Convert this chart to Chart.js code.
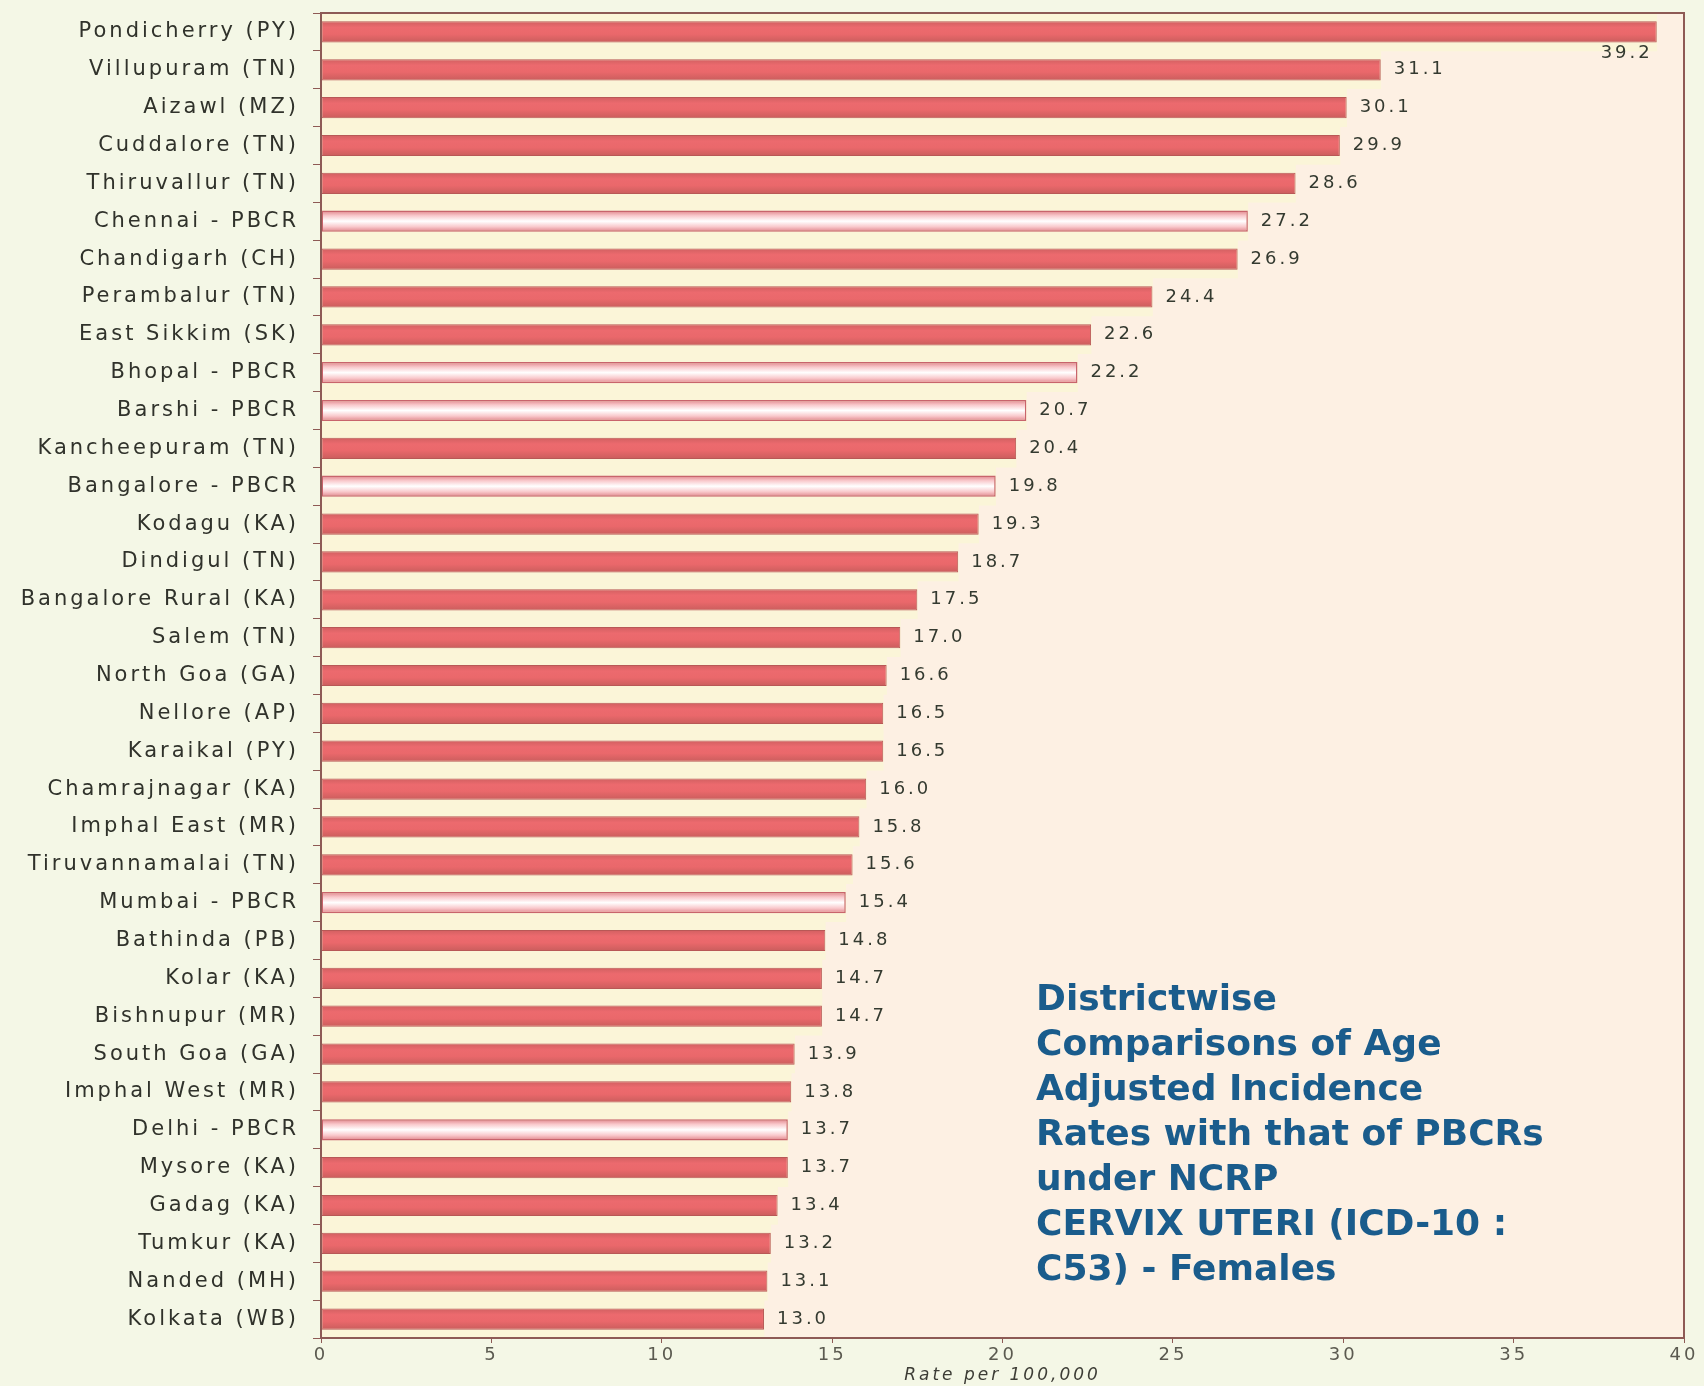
<!DOCTYPE html>
<html>
<head>
<meta charset="utf-8">
<title>Districtwise AAR - Cervix Uteri</title>
<script src="https://cdn.jsdelivr.net/npm/chart.js@4.4.1/dist/chart.umd.min.js"></script>
<style>
  html, body { margin: 0; padding: 0; background: #f4f7e6; }
  #wrap { width: 1704px; height: 1386px; }
</style>
</head>
<body>
<div id="wrap"><canvas id="aarChart" width="1704" height="1386"></canvas></div>
<script>
const districts = [
    'Pondicherry (PY)', 'Villupuram (TN)', 'Aizawl (MZ)', 'Cuddalore (TN)', 'Thiruvallur (TN)',
    'Chennai - PBCR', 'Chandigarh (CH)', 'Perambalur (TN)', 'East Sikkim (SK)', 'Bhopal - PBCR',
    'Barshi - PBCR', 'Kancheepuram (TN)', 'Bangalore - PBCR', 'Kodagu (KA)', 'Dindigul (TN)',
    'Bangalore Rural (KA)', 'Salem (TN)', 'North Goa (GA)', 'Nellore (AP)', 'Karaikal (PY)',
    'Chamrajnagar (KA)', 'Imphal East (MR)', 'Tiruvannamalai (TN)', 'Mumbai - PBCR', 'Bathinda (PB)',
    'Kolar (KA)', 'Bishnupur (MR)', 'South Goa (GA)', 'Imphal West (MR)', 'Delhi - PBCR',
    'Mysore (KA)', 'Gadag (KA)', 'Tumkur (KA)', 'Nanded (MH)', 'Kolkata (WB)'
];
const rates = [
    39.2, 31.1, 30.1, 29.9, 28.6,
    27.2, 26.9, 24.4, 22.6, 22.2,
    20.7, 20.4, 19.8, 19.3, 18.7,
    17.5, 17.0, 16.6, 16.5, 16.5,
    16.0, 15.8, 15.6, 15.4, 14.8,
    14.7, 14.7, 13.9, 13.8, 13.7,
    13.7, 13.4, 13.2, 13.1, 13.0
];
const xTicks = [0, 5, 10, 15, 20, 25, 30, 35, 40];
const titleLines = [
    'Districtwise',
    'Comparisons of Age',
    'Adjusted Incidence',
    'Rates with that of PBCRs',
    'under NCRP',
    'CERVIX UTERI (ICD-10 :',
    'C53) - Females'
];

const isPbcr = label => label.indexOf('PBCR') !== -1;

// vertical gradient across one bar, built from the bar's own pixel position
function barFill(context) {
    const pbcr = context.dataIndex !== undefined && isPbcr(districts[context.dataIndex]);
    const plain = pbcr ? '#fbd3d5' : '#e8686b';
    const chart = context.chart;
    const y = chart.scales && chart.scales.y;
    if (!y || context.dataIndex === undefined) return plain;
    const centre = y.getPixelForValue(context.dataIndex);
    if (!isFinite(centre)) return plain;
    const half = 11;
    const g = chart.ctx.createLinearGradient(0, centre - half, 0, centre + half);
    if (pbcr) {
        g.addColorStop(0, '#dd7e84');
        g.addColorStop(0.25, '#f9c9cc');
        g.addColorStop(0.5, '#ffffff');
        g.addColorStop(0.75, '#f9c9cc');
        g.addColorStop(1, '#dd7e84');
    } else {
        g.addColorStop(0, '#cf5f60');
        g.addColorStop(0.3, '#ec6a6e');
        g.addColorStop(0.6, '#ea686b');
        g.addColorStop(1, '#c85d5c');
    }
    return g;
}

const chartDecor = {
    id: 'chartDecor',
    beforeLayout(chart) {
        chart.ctx.letterSpacing = '3px';
    },
    beforeDraw(chart) {
        const { ctx, chartArea: a } = chart;
        ctx.letterSpacing = '3px';
        ctx.save();
        ctx.fillStyle = '#fdf0e3';
        ctx.fillRect(a.left, a.top, a.right - a.left, a.bottom - a.top);
        ctx.restore();
    },
    afterDatasetsDraw(chart) {
        const { ctx } = chart;
        const meta = chart.getDatasetMeta(0);
        ctx.save();
        ctx.font = '18px "DejaVu Sans"';
        ctx.fillStyle = '#343a30';
        ctx.textBaseline = 'middle';
        meta.data.forEach((bar, i) => {
            const text = rates[i].toFixed(1);
            if (i === 0) {
                // longest bar: label sits under the bar end
                ctx.textAlign = 'right';
                ctx.fillText(text, bar.x - 4, bar.y + bar.height / 2 + 11);
            } else {
                ctx.textAlign = 'left';
                ctx.fillText(text, bar.x + 13, bar.y);
            }
        });
        ctx.restore();
    },
    afterDraw(chart) {
        const { ctx, chartArea: a } = chart;
        ctx.save();
        ctx.strokeStyle = '#8e5a55';
        ctx.lineWidth = 2;
        ctx.strokeRect(a.left, a.top, a.right - a.left, a.bottom - a.top);

        ctx.letterSpacing = '0px';
        ctx.font = 'bold 36px "DejaVu Sans"';
        ctx.fillStyle = '#1a5c8c';
        ctx.textAlign = 'left';
        ctx.textBaseline = 'alphabetic';
        titleLines.forEach((line, i) => {
            ctx.fillText(line, 1036, 1010 + i * 45);
        });
        ctx.restore();
    }
};

const ctx = document.getElementById('aarChart').getContext('2d');
const aarChart = new Chart(ctx, {
    type: 'bar',
    data: {
        labels: districts,
        datasets: [{
            label: 'Rate per 100,000',
            data: rates,
            backgroundColor: barFill,
            borderColor: districts.map(d => isPbcr(d) ? '#c8646c' : '#b85856'),
            borderWidth: districts.map(d => isPbcr(d) ? 1.5 : 1),
            borderSkipped: false,
            barPercentage: 0.56,
            categoryPercentage: 1,
            grouped: false,
            order: 0
        }, {
            // pale band round each bar
            label: 'band',
            data: rates,
            backgroundColor: '#fbf5d8',
            borderWidth: 0,
            barPercentage: 1,
            categoryPercentage: 1,
            grouped: false,
            order: 1
        }]
    },
    options: {
        indexAxis: 'y',
        responsive: false,
        animation: false,
        layout: { padding: { top: 13, right: 20, left: 0, bottom: 0 } },
        plugins: {
            legend: { display: false },
            tooltip: { filter: item => item.datasetIndex === 0 }
        },
        scales: {
            x: {
                type: 'linear',
                min: xTicks[0],
                max: xTicks[xTicks.length - 1],
                afterBuildTicks: scale => { scale.ticks = xTicks.map(v => ({ value: v })); },
                afterFit: scale => { scale.height = 48; },
                grid: { drawOnChartArea: false, tickLength: 5, color: '#8e5a55' },
                border: { color: '#8e5a55', width: 2 },
                ticks: {
                    padding: 2,
                    color: '#5b5a50',
                    font: { family: '"DejaVu Sans"', size: 18 }
                },
                title: {
                    display: true,
                    text: 'Rate per 100,000',
                    color: '#3d3d36',
                    padding: { top: 0, bottom: 0 },
                    font: { family: '"DejaVu Sans"', size: 17, style: 'italic' }
                }
            },
            y: {
                afterFit: scale => {
                    scale.width = 321;
                    scale.paddingTop = 0;
                    scale.paddingBottom = 0;
                },
                grid: { drawOnChartArea: false, tickLength: 8, color: '#8e5a55', offset: true },
                border: { color: '#8e5a55', width: 2 },
                ticks: {
                    padding: 14,
                    color: '#30322b',
                    autoSkip: false,
                    font: { family: '"DejaVu Sans"', size: 21 }
                }
            }
        }
    },
    plugins: [chartDecor]
});
</script>
</body>
</html>
